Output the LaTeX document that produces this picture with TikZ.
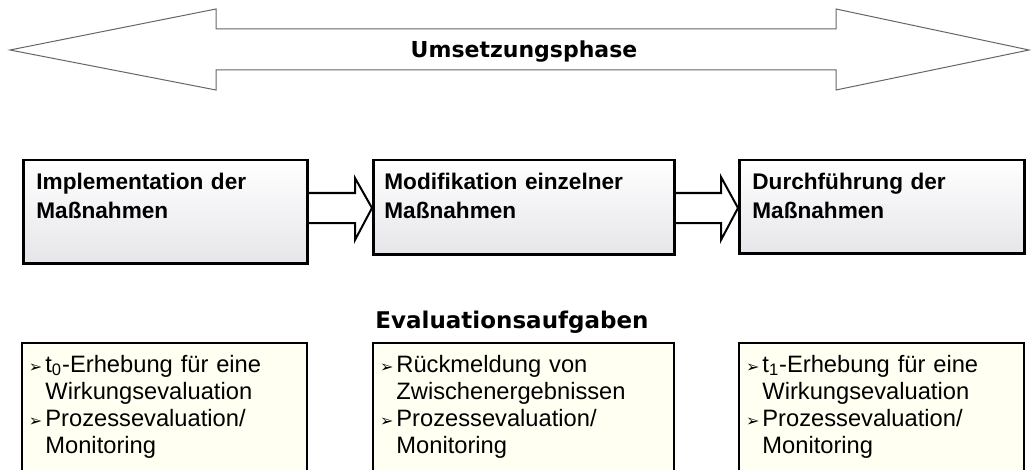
\documentclass[tikz,border=0pt]{standalone}
\usepackage{fontspec}
\setmainfont{Liberation Sans}
\newfontfamily\headfont{DejaVu Sans}
\newfontfamily\symfont{DejaVu Sans}
\usetikzlibrary{calc}

\definecolor{evalfill}{RGB}{255,255,242}
\definecolor{phasebot}{RGB}{230,230,234}
\newcommand{\bul}{\makebox[7.5pt][r]{\symfont\fontsize{8}{8}\selectfont ➢\hspace*{1.5pt}}}
\newcommand{\ind}{\hspace*{7.5pt}}

\tikzset{
  phasebox/.style={draw=black, line width=1.25pt, top color=white, bottom color=phasebot, anchor=north west, inner sep=0pt},
  phasetext/.style={anchor=base west, align=left, text width=140pt, inner sep=0pt, font=\bfseries\fontsize{11.3}{14}\selectfont},
  evalbox/.style={draw=black, line width=1pt, fill=evalfill, anchor=north west, inner sep=0pt},
  evaltext/.style={anchor=base west, align=left, text width=140pt, inner sep=0pt, font=\fontsize{11.85}{13.5}\selectfont},
  blockarr/.style={draw=black, line width=1pt, fill=white, line join=miter},
  bigarr/.style={draw=black!60, line width=0.5pt, fill=white},
  title/.style={anchor=base, font=\headfont\bfseries\fontsize{11}{13}\selectfont}
}

\begin{document}
\begin{tikzpicture}[x=0.5pt, y=-0.5pt]
    \clip (0,0) rectangle (1031,470);
    \fill[white] (0,0) rectangle (1031,470);

    % phase arrow
    \draw[bigarr] (10,50) -- (216,9) -- (216,29) -- (836,29) -- (836,9) -- (1029,50)
        -- (836,90) -- (836,70) -- (216,70) -- (216,90) -- cycle;
    \node[title] (phase) at (524,58) {Umsetzungsphase};

    % block arrows (drawn below the boxes)
    \coordinate (a1) at (306,208);
    \coordinate (a2) at (673,208);
    \draw[blockarr] (a1 |- 0,193) -- (355,193) -- (355,178) -- (372,208)
        -- (355,240) -- (355,223) -- (a1 |- 0,223);
    \draw[blockarr] (a2 |- 0,193) -- (721,193) -- (721,177) -- (738,208)
        -- (721,240) -- (721,223) -- (a2 |- 0,223);

    % phase boxes
    \node[phasebox, minimum width=142pt, minimum height=51.5pt] (impl) at (22,159) {};
    \node[phasebox, minimum width=150.5pt, minimum height=47pt] (modif) at (372,159) {};
    \node[phasebox, minimum width=142.5pt, minimum height=46.5pt] (durch) at (738,159) {};
    \node[phasetext] (impltxt) at ($(impl.north west)+(14,31)$) {Implementation der\\Maßnahmen};
    \node[phasetext] (modiftxt) at ($(modif.north west)+(12,31)$) {Modifikation einzelner\\Maßnahmen};
    \node[phasetext] (durchtxt) at ($(durch.north west)+(14,31)$) {Durchführung der\\Maßnahmen};

    % evaluation tasks
    \node[title, font=\headfont\bfseries\fontsize{11.5}{13}\selectfont] (evaltitle) at (512,328) {Evaluationsaufgaben};

    \node[evalbox, minimum width=142.5pt, minimum height=80pt] (evalA) at (21,342) {};
    \node[evalbox, minimum width=150.5pt, minimum height=80pt] (evalB) at (372,342) {};
    \node[evalbox, minimum width=142.5pt, minimum height=80pt] (evalC) at (738,342) {};
    \node[evaltext] (evalAtxt) at ($(evalA.north west)+(9,30)$)
        {\bul t\textsubscript{0}-Erhebung für eine\\\ind Wirkungsevaluation\\\bul Prozessevaluation/\\\ind Monitoring};
    \node[evaltext] (evalBtxt) at ($(evalB.north west)+(9,30)$)
        {\bul Rückmeldung von\\\ind Zwischenergebnissen\\\bul Prozessevaluation/\\\ind Monitoring};
    \node[evaltext] (evalCtxt) at ($(evalC.north west)+(9,30)$)
        {\bul t\textsubscript{1}-Erhebung für eine\\\ind Wirkungsevaluation\\\bul Prozessevaluation/\\\ind Monitoring};
\end{tikzpicture}
\end{document}
